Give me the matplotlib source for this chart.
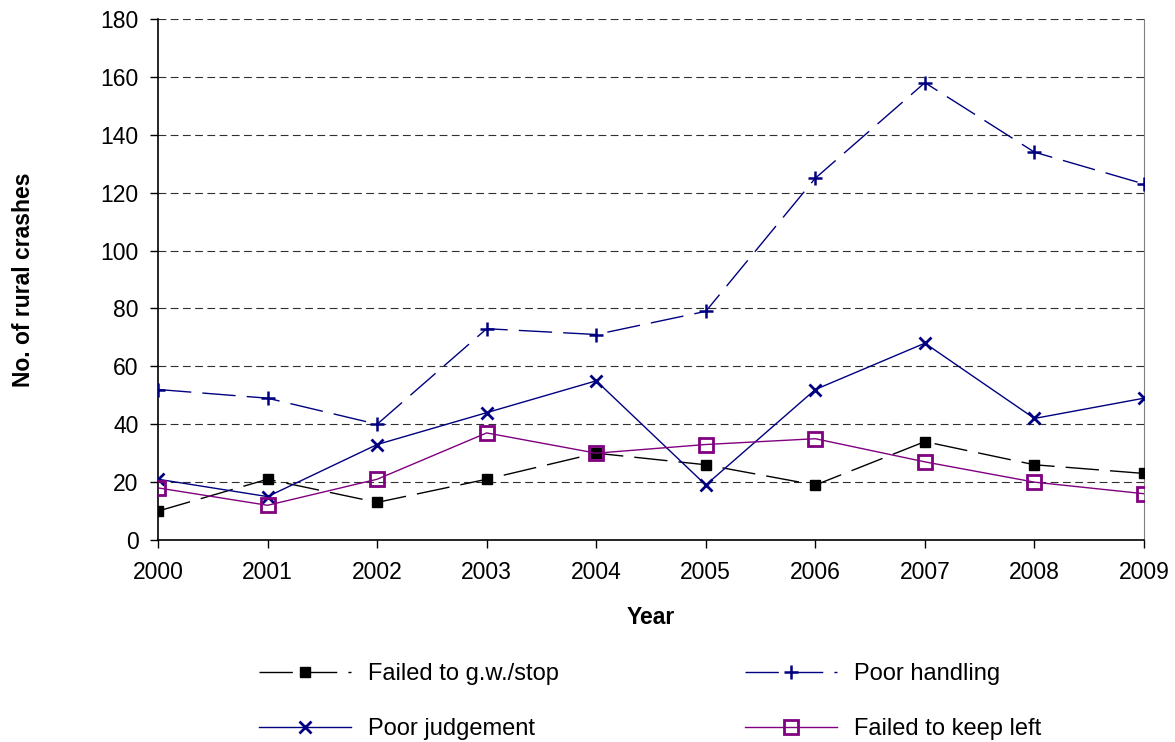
import matplotlib
matplotlib.use('Agg')
import matplotlib.pyplot as plt

years = [2000, 2001, 2002, 2003, 2004, 2005, 2006, 2007, 2008, 2009]
failed_gw_stop = [10, 21, 13, 21, 30, 26, 19, 34, 26, 23]
poor_handling = [52, 49, 40, 73, 71, 79, 125, 158, 134, 123]
poor_judgement = [21, 15, 33, 44, 55, 19, 52, 68, 42, 49]
failed_keep_left = [18, 12, 21, 37, 30, 33, 35, 27, 20, 16]

plt.rcParams['font.family'] = ['Liberation Sans', 'DejaVu Sans']

fig = plt.figure(figsize=(11.75, 7.42), dpi=100)
ax = fig.add_axes([0.1345, 0.2722, 0.8391, 0.7022])

navy = '#000080'
purple = '#800080'

# grid first so lines sit on top
for v in range(20, 181, 20):
    ax.axhline(v, color='#303030', lw=0.8, ls=(0, (7, 4)), zorder=1)

l1, = ax.plot(years, failed_gw_stop, color='black', lw=1, dashes=(24, 8),
              marker='s', ms=7.5, mfc='black', mec='black', zorder=3)
l2, = ax.plot(years, poor_handling, color=navy, lw=1, dashes=(24, 8),
              marker='+', ms=10, mew=1.8, mec=navy, zorder=3)
l3, = ax.plot(years, poor_judgement, color=navy, lw=1,
              marker='x', ms=8, mew=2, mec=navy, zorder=3)
l4, = ax.plot(years, failed_keep_left, color=purple, lw=1,
              marker='s', ms=10, mfc='none', mew=2, mec=purple, zorder=4)

ax.set_xlim(2000, 2009)
ax.set_ylim(0, 180)
ax.set_xticks(years)
ax.set_yticks(range(0, 181, 20))
ax.tick_params(labelsize=16.5, length=6, width=1, direction='out')
ax.tick_params(axis='x', pad=9)
ax.tick_params(axis='y', pad=8)
ax.spines['top'].set_visible(False)
ax.spines['right'].set_color('#808080')
ax.spines['right'].set_linewidth(0.8)
ax.spines['left'].set_linewidth(1.2)
ax.spines['bottom'].set_linewidth(1.2)
for lab in ax.get_xticklabels() + ax.get_yticklabels():
    lab.set_clip_on(False)

ax.set_xlabel('Year', fontsize=16.5, fontweight='bold', labelpad=16)
ax.set_ylabel('No. of rural crashes', fontsize=16.5, fontweight='bold', labelpad=47)

fig.legend([l1, l3, l2, l4],
           ['Failed to g.w./stop', 'Poor judgement', 'Poor handling', 'Failed to keep left'],
           ncol=2, frameon=False, fontsize=17, handlelength=3.9, handletextpad=0.7,
           columnspacing=7.9, labelspacing=1.4,
           loc='upper left', bbox_to_anchor=(0.2025, 0.135))

fig.savefig('out.png', dpi=100)
